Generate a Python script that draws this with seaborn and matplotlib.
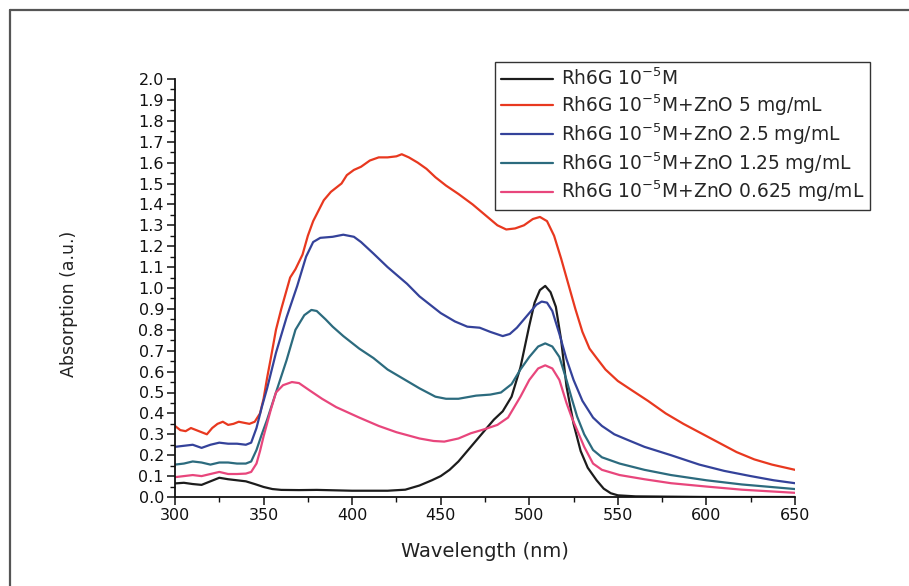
import numpy as np
import pandas as pd
import matplotlib
matplotlib.use("Agg")
import matplotlib.pyplot as plt
from matplotlib.lines import Line2D
from matplotlib.ticker import MultipleLocator, FormatStrFormatter
import seaborn as sns

# ---------------- data ----------------
labels = [
    "Rh6G 10$^{-5}$M",
    "Rh6G 10$^{-5}$M+ZnO 5 mg/mL",
    "Rh6G 10$^{-5}$M+ZnO 2.5 mg/mL",
    "Rh6G 10$^{-5}$M+ZnO 1.25 mg/mL",
    "Rh6G 10$^{-5}$M+ZnO 0.625 mg/mL",
]

wl_black = [300, 305, 310, 315, 320, 325, 330, 335, 340, 345, 350, 355, 360, 370, 380, 390, 400, 410,
            420, 430, 438, 445, 450, 455, 460, 465, 470, 476, 480, 485, 490, 495, 500, 503, 506, 509,
            512, 515, 518, 521, 525, 529, 533, 538, 542, 546, 550, 560, 600, 650]
ab_black = [0.065, 0.068, 0.062, 0.058, 0.075, 0.092, 0.085, 0.080, 0.075, 0.062, 0.048, 0.038, 0.034,
            0.033, 0.034, 0.032, 0.030, 0.030, 0.030, 0.035, 0.055, 0.080, 0.100, 0.130, 0.170, 0.220,
            0.270, 0.330, 0.370, 0.410, 0.480, 0.620, 0.820, 0.930, 0.990, 1.010, 0.980, 0.910, 0.750,
            0.530, 0.350, 0.220, 0.140, 0.080, 0.040, 0.018, 0.008, 0.003, 0.000, 0.000]

wl_red = [300, 303, 306, 309, 312, 315, 318, 321, 324, 327, 330, 333, 336, 339, 342, 345, 348, 350, 352,
          354, 357, 360, 362, 365, 368, 372, 375, 378, 381, 384, 388, 391, 394, 397, 401, 405, 410, 415,
          420, 425, 428, 432, 437, 442, 447, 453, 460, 468, 475, 482, 487, 492, 497, 502, 506, 510, 514,
          518, 522, 526, 530, 534, 538, 543, 550, 558, 567, 577, 587, 597, 607, 617, 627, 637, 650]
ab_red = [0.340, 0.320, 0.315, 0.330, 0.320, 0.310, 0.300, 0.330, 0.350, 0.360, 0.345, 0.350, 0.360,
          0.355, 0.350, 0.360, 0.400, 0.470, 0.570, 0.660, 0.800, 0.900, 0.960, 1.050, 1.090, 1.160,
          1.250, 1.320, 1.370, 1.420, 1.460, 1.480, 1.500, 1.540, 1.565, 1.580, 1.610, 1.625, 1.625,
          1.630, 1.640, 1.625, 1.600, 1.570, 1.530, 1.490, 1.450, 1.400, 1.350, 1.300, 1.280, 1.285,
          1.300, 1.330, 1.340, 1.320, 1.250, 1.140, 1.020, 0.900, 0.790, 0.710, 0.665, 0.610, 0.555,
          0.510, 0.460, 0.400, 0.350, 0.305, 0.260, 0.215, 0.180, 0.155, 0.130]

wl_blue = [300, 305, 310, 315, 320, 325, 330, 335, 340, 343, 346, 349, 352, 357, 363, 369, 374, 378, 382,
           389, 395, 401, 405, 412, 420, 431, 438, 444, 450, 458, 465, 472, 478, 485, 489, 493, 497, 501,
           504, 507, 510, 513, 517, 521, 525, 530, 536, 541, 548, 555, 565, 580, 596, 610, 625, 638, 650]
ab_blue = [0.240, 0.245, 0.250, 0.235, 0.250, 0.260, 0.255, 0.255, 0.250, 0.260, 0.330, 0.430, 0.520,
           0.690, 0.860, 1.010, 1.150, 1.220, 1.240, 1.245, 1.255, 1.245, 1.220, 1.165, 1.100, 1.020,
           0.960, 0.920, 0.880, 0.840, 0.815, 0.810, 0.790, 0.770, 0.780, 0.810, 0.850, 0.890, 0.920,
           0.935, 0.930, 0.890, 0.780, 0.660, 0.560, 0.460, 0.380, 0.340, 0.300, 0.275, 0.240, 0.200,
           0.155, 0.125, 0.100, 0.080, 0.066]

wl_teal = [300, 305, 310, 315, 320, 325, 330, 335, 340, 343, 346, 349, 352, 357, 363, 368, 373, 377, 380,
           385, 389, 395, 404, 412, 420, 430, 438, 447, 453, 460, 470, 478, 484, 490, 495, 500, 505, 509,
           513, 517, 521, 524, 527, 531, 536, 541, 551, 565, 580, 600, 620, 650]
ab_teal = [0.155, 0.160, 0.170, 0.165, 0.155, 0.165, 0.165, 0.160, 0.160, 0.170, 0.225, 0.300, 0.370,
           0.500, 0.655, 0.800, 0.870, 0.895, 0.890, 0.850, 0.815, 0.770, 0.710, 0.665, 0.610, 0.560,
           0.520, 0.480, 0.470, 0.470, 0.485, 0.490, 0.500, 0.540, 0.610, 0.670, 0.720, 0.735, 0.720,
           0.670, 0.560, 0.470, 0.385, 0.300, 0.225, 0.190, 0.160, 0.130, 0.105, 0.080, 0.060, 0.038]

wl_pink = [300, 305, 310, 315, 320, 325, 330, 335, 340, 343, 346, 348, 350, 354, 357, 361, 366, 370, 376,
           383, 391, 404, 415, 425, 438, 446, 452, 460, 467, 475, 482, 488, 495, 500, 505, 509, 513, 517,
           521, 524, 527, 531, 536, 541, 551, 565, 580, 600, 620, 650]
ab_pink = [0.095, 0.100, 0.105, 0.100, 0.110, 0.120, 0.110, 0.110, 0.112, 0.120, 0.160, 0.220, 0.290,
           0.415, 0.500, 0.535, 0.550, 0.545, 0.510, 0.470, 0.430, 0.380, 0.340, 0.310, 0.280, 0.268,
           0.265, 0.280, 0.305, 0.325, 0.345, 0.380, 0.480, 0.560, 0.615, 0.630, 0.615, 0.560, 0.450,
           0.380, 0.320, 0.240, 0.160, 0.130, 0.105, 0.085, 0.066, 0.050, 0.035, 0.020]

colors = ["#1c1c1c", "#e8381f", "#34429a", "#2c6b7e", "#e8467c"]

series = [(wl_black, ab_black), (wl_red, ab_red), (wl_blue, ab_blue), (wl_teal, ab_teal), (wl_pink, ab_pink)]
frames = []
for lab, (w, a) in zip(labels, series):
    frames.append(pd.DataFrame({"Wavelength": w, "Absorption": a, "Sample": lab}))
df = pd.concat(frames, ignore_index=True)

# ---------------- plot ----------------
sns.set_theme(style="ticks")
plt.rcParams["font.family"] = ["DejaVu Sans"]
plt.rcParams["mathtext.fontset"] = "dejavusans"

fig = plt.figure(figsize=(9.09, 5.86), dpi=100)
fig.patch.set_facecolor("white")
ax = fig.add_axes([175 / 909, 89 / 586, 620 / 909, (497 - 79) / 586])

sns.lineplot(data=df, x="Wavelength", y="Absorption", hue="Sample", hue_order=labels,
             palette=dict(zip(labels, colors)), linewidth=1.6, sort=True, estimator=None,
             ax=ax, legend=True)

ax.set_xlim(300, 650)
ax.set_ylim(0, 2.0)
ax.xaxis.set_major_locator(MultipleLocator(50))
ax.xaxis.set_minor_locator(MultipleLocator(25))
ax.yaxis.set_major_locator(MultipleLocator(0.1))
ax.yaxis.set_minor_locator(MultipleLocator(0.05))
ax.yaxis.set_major_formatter(FormatStrFormatter("%.1f"))
ax.tick_params(axis="both", which="major", direction="out", length=6, width=1.1,
               labelsize=11.5, pad=2, colors="#111111")
ax.tick_params(axis="both", which="minor", direction="out", length=3.5, width=1.0, colors="#111111")
for s in ["top", "right"]:
    ax.spines[s].set_visible(False)
for s in ["left", "bottom"]:
    ax.spines[s].set_linewidth(1.3)
    ax.spines[s].set_color("#111111")

ax.set_xlabel("Wavelength (nm)", fontsize=14, color="#222222")
ax.set_ylabel("Absorption (a.u.)", fontsize=12.5, color="#222222")
ax.xaxis.set_label_coords(0.5, -0.108)
ax.yaxis.set_label_coords(-0.156, 0.462)

handles, labs = ax.get_legend_handles_labels()
leg = ax.legend(handles, labs, loc="upper right", bbox_to_anchor=(870 / 909, 1 - 62 / 586),
                bbox_transform=fig.transFigure, fontsize=13.4, frameon=True, fancybox=False,
                edgecolor="#333333", framealpha=1, labelspacing=0.18, handlelength=2.8,
                handletextpad=0.45, borderpad=0.3, borderaxespad=0)
leg.get_frame().set_linewidth(1.0)
for h in leg.get_lines():
    h.set_linewidth(1.6)

# outer figure frame (top and left edges)
fig.add_artist(Line2D([10 / 909, 1.0], [1 - 10 / 586, 1 - 10 / 586], transform=fig.transFigure,
                      color="#555555", linewidth=1.6))
fig.add_artist(Line2D([10 / 909, 10 / 909], [0, 1 - 10 / 586], transform=fig.transFigure,
                      color="#555555", linewidth=1.6))

fig.savefig("out.png", dpi=100)
